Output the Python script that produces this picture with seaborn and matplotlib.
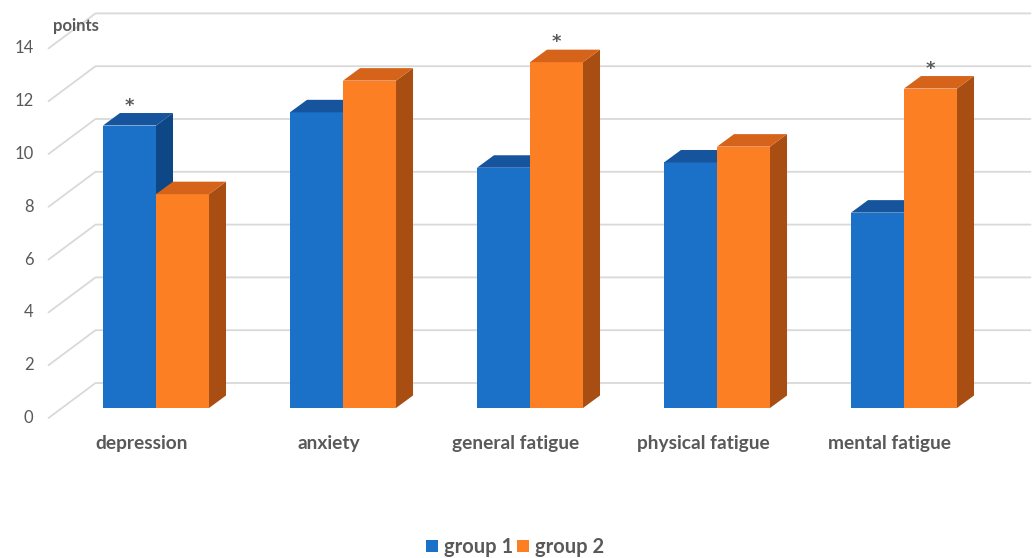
import matplotlib
matplotlib.use("Agg")
import pandas as pd
import seaborn as sns
import matplotlib.pyplot as plt
from matplotlib.patches import Polygon, Patch
from matplotlib.transforms import IdentityTransform

# ---- data -------------------------------------------------------------
categories = ["depression", "anxiety", "general fatigue", "physical fatigue", "mental fatigue"]
groups = ["group 1", "group 2"]
group1 = [10.7, 11.2, 9.1, 9.3, 7.4]
group2 = [8.1, 12.4, 13.1, 9.9, 12.1]
starred = {"group 1": ["depression"], "group 2": ["general fatigue", "mental fatigue"]}
y_ticks = [0, 2, 4, 6, 8, 10, 12, 14]
y_title = "points"

# ---- colours ------------------------------------------------------------
front_col = {"group 1": "#1B71C8", "group 2": "#FD7F24"}
top_col = {"group 1": "#16549E", "group 2": "#D5631A"}
side_col = {"group 1": "#0E4785", "group 2": "#A94E13"}
text_col = "#595959"
grid_col = "#D9D9D9"

W, H = 1036, 558
sns.set_theme(style="white")
plt.rcParams["font.family"] = ["Lato", "DejaVu Sans"]

fig = plt.figure(figsize=(W / 100, H / 100), dpi=100)
# axes = the plane of the bars' front faces
ax = fig.add_axes([62.5 / W, 150 / H, 935 / W, 369.6 / H])

df = pd.DataFrame({
    "measure": categories * 2,
    "group": [groups[0]] * len(categories) + [groups[1]] * len(categories),
    "points": group1 + group2,
})
sns.barplot(data=df, x="measure", y="points", hue="group", order=categories,
            hue_order=groups, palette=[front_col[g] for g in groups],
            width=0.567, saturation=1, errorbar=None, legend=False,
            linewidth=0, ax=ax)

XL, YL = (-0.5, 4.5), (0, 14)
ax.set_xlim(*XL)
ax.set_ylim(*YL)
ax.set_autoscale_on(False)
ax.axis("off")

ident = IdentityTransform()
# oblique projection offsets (display pixels, y up)
depth_bar = (17.0, 12.5)     # depth of a bar
to_back = (33.0, 25.0)       # bar plane -> back wall
to_front = (-14.0, -10.0)    # bar plane -> front edge

# ---- walls: diagonal + horizontal gridlines -----------------------------
for v in y_ticks:
    x0, y0 = ax.transData.transform((XL[0], v))
    x1, _ = ax.transData.transform((XL[1], v))
    xs = [x0 + to_front[0], x0 + to_back[0], x1 + to_back[0]]
    ys = [y0 + to_front[1], y0 + to_back[1], y0 + to_back[1]]
    ax.plot(xs, ys, color=grid_col, lw=1.3, transform=ident, clip_on=False, zorder=0.5)
    fig.text((x0 + to_front[0] - 15) / W, (y0 + to_front[1]) / H, f"{v}",
             ha="right", va="center", fontsize=12, color=text_col)

# ---- category labels along the front edge --------------------------------
for i, cat in enumerate(categories):
    xc, yb = ax.transData.transform((i, 0))
    fig.text((xc + to_front[0]) / W, (yb + to_front[1] - 26) / H, cat,
             ha="center", va="center", fontsize=13.8, fontweight="bold", color=text_col)

# ---- 3D faces for each bar -------------------------------------------------
dx, dy = depth_bar
for k, (g, cont) in enumerate(zip(groups, ax.containers)):
    for cat, bar in zip(categories, cont.patches):
        bar.set_zorder(3 + k)
        (xa, ya) = ax.transData.transform((bar.get_x(), 0))
        (xb, yt) = ax.transData.transform((bar.get_x() + bar.get_width(), bar.get_height()))
        side = [(xb, ya), (xb, yt), (xb + dx, yt + dy), (xb + dx, ya + dy)]
        top = [(xa, yt), (xb, yt), (xb + dx, yt + dy), (xa + dx, yt + dy)]
        ax.add_patch(Polygon(side, closed=True, facecolor=side_col[g], edgecolor="none",
                             transform=ident, clip_on=False, zorder=3 + k))
        ax.add_patch(Polygon(top, closed=True, facecolor=top_col[g], edgecolor="none",
                             transform=ident, clip_on=False, zorder=3 + k))
        if cat in starred[g]:
            fig.text(((xa + xb) / 2) / W, (yt + 20) / H, "*", ha="center", va="center",
                     fontsize=13, fontweight="bold", color=text_col, family="DejaVu Sans")

fig.text(53 / W, 1 - 26 / H, y_title, ha="left", va="center",
         fontsize=12, fontweight="bold", color=text_col)

handles = [Patch(facecolor=front_col[g], edgecolor="none", label=g) for g in groups]
leg = fig.legend(handles=handles, loc="center", bbox_to_anchor=(515 / W, 1 - 547 / H),
                 ncol=2, frameon=False, handlelength=0.6, handleheight=0.6,
                 handletextpad=0.3, columnspacing=0.15,
                 prop={"size": 14.5, "weight": "bold"})
for t in leg.get_texts():
    t.set_color(text_col)

fig.savefig("out.png", dpi=100, facecolor="white")
